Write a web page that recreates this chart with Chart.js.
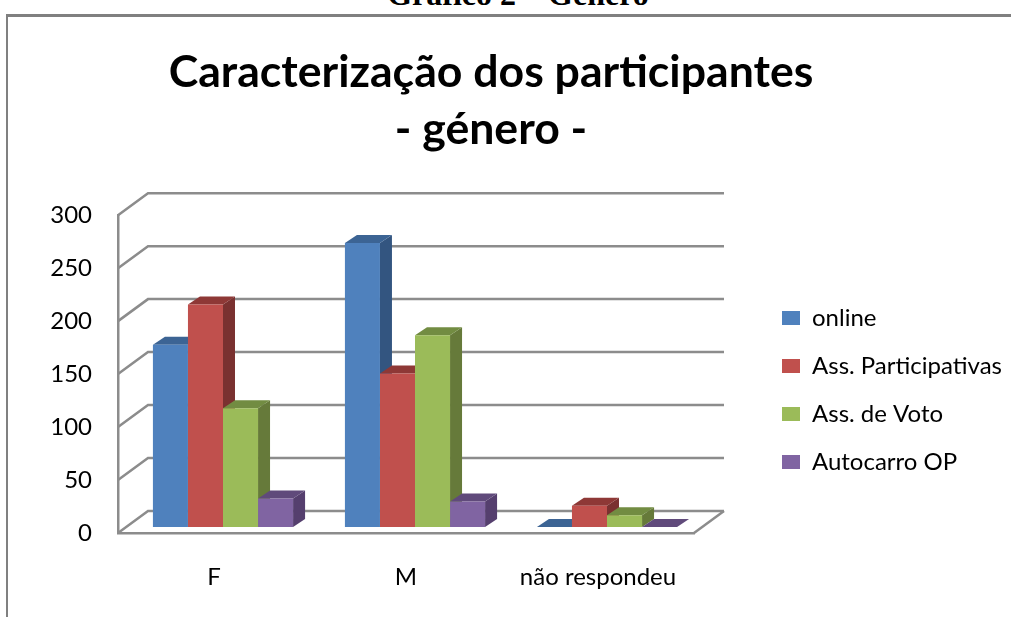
<!DOCTYPE html>
<html>
<head>
<meta charset="utf-8">
<title>Caracterização dos participantes - género</title>
<script src="https://cdn.jsdelivr.net/npm/chart.js"></script>
<style>
    html, body { margin: 0; padding: 0; background: #fff; overflow: hidden; }
    #caption {
        position: absolute; left: 0; width: 1036px; top: -24px; text-align: center;
        font: bold 32px "Liberation Serif", serif; color: #000;
    }
    #frame {
        position: absolute; left: 6px; top: 14px; right: 0; bottom: 0;
        border-top: 3px solid #808080; border-left: 2px solid #808080;
    }
    canvas { position: absolute; left: 0; top: 0; }
</style>
</head>
<body>
<div id="caption">Gráfico 2 – Género</div>
<div id="frame"></div>
<canvas id="chart" width="1011" height="617"></canvas>
<script>
// values
const categories = ['F', 'M', 'não respondeu'];
const online = [172, 268, 0];
const assParticipativas = [210, 145, 20];
const assVoto = [112, 181, 11];
const autocarro = [27, 24, 0];
const yTicks = [0, 50, 100, 150, 200, 250, 300];

const FONT = 'Lato';
const WALL = '#8c8c8c';

// the plot area is the front plane, the walls and bars sit behind it
const wallDepth = { x: 30, y: -22 };
const barPlane = { x: 9, y: -6 };
const barDepth = { x: 12, y: -8 };

const pseudo3d = {
    id: 'pseudo3d',
    afterLayout(chart) {
        // legend and title do not follow the plot in the original
        const lg = chart.legend;
        lg.left = 758; lg.right = 1011;
        lg.top = 282; lg.bottom = 282 + lg.height;
        chart.titleBlock.left = 0;
        chart.titleBlock.right = 982;
    },
    beforeDatasetsDraw(chart) {
        const { ctx, chartArea: a, scales } = chart;
        ctx.save();
        ctx.strokeStyle = WALL;
        ctx.lineWidth = 2.5;
        yTicks.forEach(v => {
            const y = scales.y.getPixelForValue(v);
            ctx.beginPath();
            ctx.moveTo(a.left, y);
            ctx.lineTo(a.left + wallDepth.x, y + wallDepth.y);
            ctx.lineTo(a.right + wallDepth.x, y + wallDepth.y);
            ctx.stroke();
        });
        ctx.beginPath();
        ctx.moveTo(a.right, a.bottom);
        ctx.lineTo(a.right + wallDepth.x, a.bottom + wallDepth.y);
        ctx.stroke();
        ctx.restore();

        ctx.save();
        ctx.translate(barPlane.x, barPlane.y);
        // sides and tops first, the library paints the fronts over them
        chart.data.datasets.forEach((ds, i) => {
            chart.getDatasetMeta(i).data.forEach(bar => {
                const r = bar.x + bar.width / 2;
                const l = bar.x - bar.width / 2;
                ctx.fillStyle = ds.sideColor;
                ctx.beginPath();
                ctx.moveTo(r, bar.y);
                ctx.lineTo(r + barDepth.x, bar.y + barDepth.y);
                ctx.lineTo(r + barDepth.x, bar.base + barDepth.y);
                ctx.lineTo(r, bar.base);
                ctx.closePath();
                ctx.fill();
                ctx.fillStyle = ds.topColor;
                ctx.beginPath();
                ctx.moveTo(l, bar.y);
                ctx.lineTo(l + barDepth.x, bar.y + barDepth.y);
                ctx.lineTo(r + barDepth.x, bar.y + barDepth.y);
                ctx.lineTo(r, bar.y);
                ctx.closePath();
                ctx.fill();
            });
        });
    },
    afterDatasetsDraw(chart) {
        chart.ctx.restore();
    }
};

new Chart(document.getElementById('chart').getContext('2d'), {
    type: 'bar',
    data: {
        labels: categories,
        datasets: [
            { label: 'online', data: online, backgroundColor: '#4f81bd', sideColor: '#335580', topColor: '#3c6494' },
            { label: 'Ass. Participativas', data: assParticipativas, backgroundColor: '#c0504d', sideColor: '#7a3130', topColor: '#8e3836' },
            { label: 'Ass. de Voto', data: assVoto, backgroundColor: '#9bbb59', sideColor: '#667a3a', topColor: '#728c42' },
            { label: 'Autocarro OP', data: autocarro, backgroundColor: '#8064a2', sideColor: '#553f6e', topColor: '#604a7b' }
        ]
    },
    options: {
        responsive: false,
        animation: false,
        categoryPercentage: 0.73,
        barPercentage: 1,
        layout: { padding: { left: 40, right: 99, top: 44, bottom: 0 } },
        plugins: {
            tooltip: { enabled: false },
            title: {
                display: true,
                text: ['Caracterização dos participantes', '- género -'],
                color: '#000',
                font: { family: FONT, size: 44.6, weight: 'bold', lineHeight: 1.28 },
                padding: { top: 0, bottom: 57 }
            },
            legend: {
                position: 'right',
                align: 'start',
                labels: {
                    color: '#000',
                    font: { family: FONT, size: 24 },
                    boxWidth: 18,
                    boxHeight: 14,
                    padding: 24
                }
            }
        },
        scales: {
            x: {
                afterFit(scale) { scale.height = 84; },
                grid: { display: false, drawTicks: false },
                border: { display: true, color: WALL, width: 2.5 },
                ticks: { color: '#000', font: { family: FONT, size: 24 }, padding: 30 }
            },
            y: {
                min: 0,
                max: 300,
                afterFit(scale) { scale.width = 78; },
                grid: { display: false, drawTicks: false },
                border: { display: true, color: WALL, width: 2.5 },
                ticks: { color: '#000', font: { family: FONT, size: 24 }, stepSize: 50, padding: 26 }
            }
        }
    },
    plugins: [pseudo3d]
});
</script>
</body>
</html>
